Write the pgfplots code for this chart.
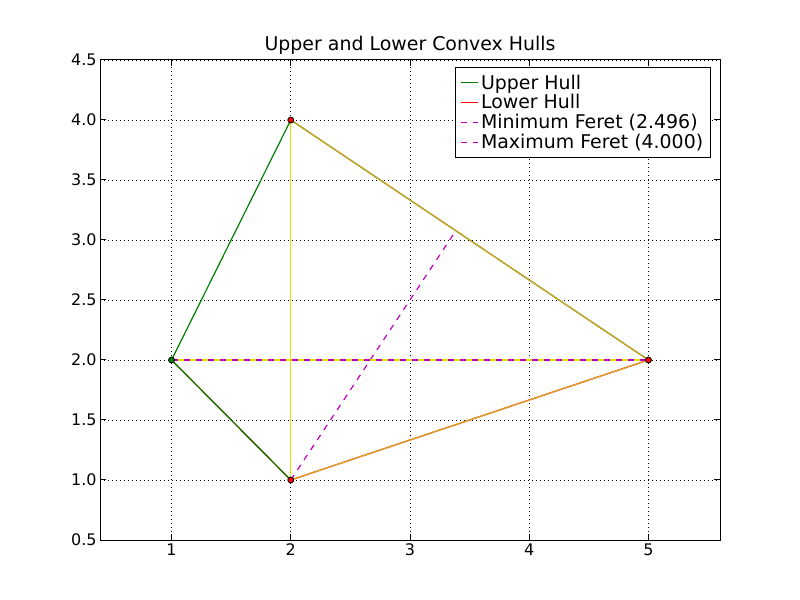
\documentclass[border=0pt]{standalone}
\usepackage{pgfplots}
\pgfplotsset{compat=1.18}
\usepackage{fontspec}
\setmainfont{DejaVu Sans}
\definecolor{mgreen}{RGB}{0,128,0}
\definecolor{gold}{RGB}{218,165,32}
\definecolor{yel}{RGB}{225,225,0}
\definecolor{mag}{RGB}{191,0,191}
\begin{document}
\begin{tikzpicture}
\path (-100bp,-60bp) rectangle (700bp,540bp);
\begin{axis}[at={(0,0)},anchor=south west,scale only axis,width=620bp,height=480bp,
xmin=0.4,xmax=5.6,ymin=0.5,ymax=4.5,
xtick={1,2,3,4,5},ytick={0.5,1,...,4.5},
yticklabel style={/pgf/number format/.cd,fixed,fixed zerofill,precision=1},
/pgf/number format/assume math mode=true,
ticklabel style={font=\fontsize{16}{18}\selectfont},
grid=major,grid style={black,line width=0.8bp,dash pattern=on 1bp off 3bp},
axis line style={line width=1bp},
tick align=inside,tick style={black,line width=1bp},major tick length=6bp,
title={Upper and Lower Convex Hulls},title style={font=\fontsize{19}{22}\selectfont,yshift=-4pt},
legend style={at={(0.985,0.985)},anchor=north east,font=\fontsize{19}{23}\selectfont,draw=black,line width=1bp,inner sep=5pt},
legend cell align=left,
every axis plot/.append style={line width=1.2bp},
]
\addplot[mgreen] coordinates {(1,2)(2,4)(5,2)};
\addlegendentry{Upper Hull}
\addplot[red] coordinates {(1,2)(2,1)(5,2)};
\addlegendentry{Lower Hull}
\addplot[mag,dash pattern=on 6bp off 6bp,forget plot] coordinates {(2,1)(3.384,3.077)};
\addplot[yel,forget plot] coordinates {(2,1)(2,4)};
\addplot[yel,forget plot] coordinates {(1,2)(5,2)};
\addplot[mgreen,forget plot] coordinates {(1,2)(2,1)};
\addplot[gold,forget plot] coordinates {(2,4)(5,2)(2,1)};
\addplot[mag,dash pattern=on 6bp off 6bp,forget plot] coordinates {(1,2)(5,2)};
\addplot[only marks,mark=*,mark size=3bp,mark options={fill=red,draw=black,line width=0.8bp},forget plot] coordinates {(2,4)(5,2)(2,1)};
\addplot[only marks,mark=*,mark size=3bp,mark options={fill=mgreen,draw=black,line width=0.8bp},forget plot] coordinates {(1,2)};
\addlegendimage{mag,line width=1.2bp,dash pattern=on 6bp off 6bp}
\addlegendentry{Minimum Feret (2.496)}
\addlegendimage{mag,line width=1.2bp,dash pattern=on 6bp off 6bp}
\addlegendentry{Maximum Feret (4.000)}
\end{axis}
\end{tikzpicture}
\end{document}
